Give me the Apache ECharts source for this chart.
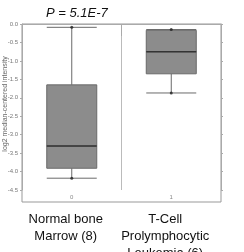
<!DOCTYPE html>
<html>
<head>
<meta charset="utf-8">
<script src="https://cdn.jsdelivr.net/npm/echarts@6/dist/echarts.min.js"></script>
<style>
  html, body { margin: 0; padding: 0; background: #fff; }
  #main { width: 244px; height: 252px; }
</style>
</head>
<body>
<div id="main"></div>
<script>
// group index labels and group names
var groupIds = ['0', '1'];
var groupNames = ['Normal bone\nMarrow (8)', 'T-Cell\nProlymphocytic\nLeukemia (6)'];
// [min, Q1, median, Q3, max]
var boxValues = [
  [-4.18, -3.91, -3.31, -1.65, -0.09],
  [-1.87, -1.35, -0.75, -0.17, -0.15]
];
var yTicks = [-4.5, 0];

var chart = echarts.init(document.getElementById('main'), null, { renderer: 'canvas' });

var whiskerDots = [];
boxValues.forEach(function (b, i) {
  whiskerDots.push([i, b[0]]);
  whiskerDots.push([i, b[4]]);
});

var option = {
  animation: false,
  title: {
    text: 'P = 5.1E-7',
    left: 41,
    top: 2,
    textStyle: { fontSize: 13, fontStyle: 'italic', fontWeight: 'normal', color: '#111', fontFamily: 'Liberation Sans' }
  },
  grid: { left: 22, right: 23, top: 24, bottom: 62, outerBoundsMode: 'none', containLabel: false },
  xAxis: [{
    type: 'category',
    data: groupIds,
    boundaryGap: true,
    axisLine: { lineStyle: { color: '#aaa' } },
    axisTick: { show: true, length: 12, lineStyle: { color: '#aaa' } },
    axisLabel: { fontSize: 6, color: '#888', margin: 4 },
    splitLine: { show: true, lineStyle: { color: '#bbb' } }
  }, {
    type: 'category',
    data: groupNames,
    position: 'bottom',
    axisLine: { show: false },
    axisTick: { show: false },
    axisLabel: {
      interval: 0, hideOverlap: false,
      fontSize: 13, lineHeight: 17, color: '#111', margin: 21,
      fontFamily: 'Liberation Sans', padding: [0, 12, 0, 0]
    }
  }],
  yAxis: [{
    type: 'value',
    min: yTicks[0],
    max: yTicks[1],
    interval: 0.5,
    name: 'log2 median-centered intensity',
    nameLocation: 'middle',
    nameGap: 13,
    nameMoveOverlap: false,
    nameTextStyle: { fontSize: 7, color: '#666', padding: [0, 0, 0, 6] },
    axisLine: { show: true, lineStyle: { color: '#aaa' } },
    axisTick: { show: true, length: 2, lineStyle: { color: '#aaa' } },
    axisLabel: { fontSize: 6, color: '#777', margin: 4, formatter: function (v) { return v.toFixed(1); } },
    splitLine: { show: false }
  }, {
    type: 'value',
    position: 'right',
    min: yTicks[0],
    max: yTicks[1],
    interval: 0.5,
    axisLine: { show: true, lineStyle: { color: '#aaa' } },
    axisTick: { show: true, length: 2, lineStyle: { color: '#aaa' } },
    axisLabel: { show: false },
    splitLine: { show: false }
  }],
  graphic: [{
    type: 'rect',
    shape: { x: 22, y: 24, width: 199, height: 178 },
    style: { fill: 'none', stroke: '#999', lineWidth: 1 },
    silent: true
  }],
  series: [{
    type: 'boxplot',
    data: boxValues,
    boxWidth: [50, 50],
    itemStyle: { color: '#8c8c8c', borderColor: '#6a6a6a', borderWidth: 1 },
    z: 2
  }, {
    type: 'custom',
    data: boxValues.map(function (b, i) { return [i, b[2]]; }),
    renderItem: function (params, api) {
      var p = api.coord([api.value(0), api.value(1)]);
      var half = 25;
      return {
        type: 'line',
        shape: { x1: p[0] - half, y1: p[1], x2: p[0] + half, y2: p[1] },
        style: { stroke: '#333', lineWidth: 1.5 }
      };
    },
    z: 3
  }, {
    type: 'scatter',
    data: whiskerDots,
    symbolSize: 3,
    itemStyle: { color: '#222' },
    z: 4
  }]
};
chart.setOption(option);
</script>
</body>
</html>
